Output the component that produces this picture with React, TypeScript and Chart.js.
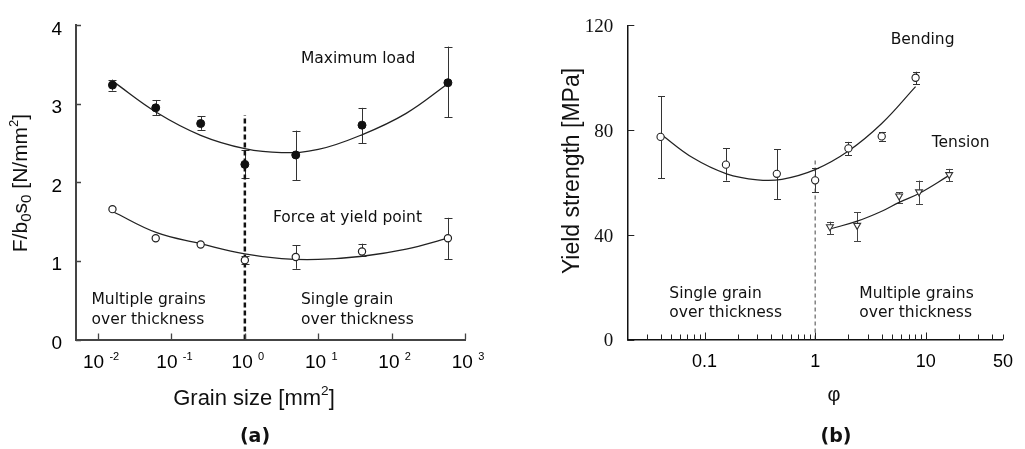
import { useEffect, useRef } from "react";
import { Chart, registerables } from "chart.js";

Chart.register(...registerables);

// ---------------- Panel (a): force per area vs grain size ----------------
const grainTickValues = [0.01, 0.1, 1, 10, 100, 1000];
const grainTickExponents = ["-2", "-1", "0", "1", "2", "3"];
const forceTickValues = [0, 1, 2, 3, 4];

const grainSize = [0.0157, 0.061, 0.25, 1.0, 4.94, 39.5, 585];
const maxLoad = [3.24, 2.95, 2.75, 2.23, 2.35, 2.73, 3.27];
const maxLoadLow = [3.17, 2.86, 2.67, 2.06, 2.03, 2.5, 2.83];
const maxLoadHigh = [3.31, 3.05, 2.84, 2.41, 2.66, 2.95, 3.73];
const yieldForce = [1.66, 1.29, 1.21, 1.01, 1.05, 1.12, 1.29];
const yieldForceLow = [null, null, null, 0.96, 0.9, 1.06, 1.02];
const yieldForceHigh = [null, null, null, 1.06, 1.2, 1.22, 1.55];

const fitGrainSize = [0.0158, 0.063, 0.25, 1, 3.16, 10, 40, 158, 590];
const maxLoadFit = [3.29, 2.89, 2.6, 2.43, 2.38, 2.42, 2.61, 2.88, 3.26];
const yieldForceFit = [1.63, 1.36, 1.22, 1.09, 1.03, 1.02, 1.06, 1.15, 1.29];

const grainBoundaryX = [1, 1];
const grainBoundaryY = [0, 2.86];

// ---------------- Panel (b): yield strength vs phi ----------------
const phiTickValues = [0.1, 1, 10, 50];
const phiTickLabels = ["0.1", "1", "10", "50"];
const phiMajorTicks = [0.1, 1, 10];
const phiMinorTicks = [0.03, 0.04, 0.05, 0.06, 0.07, 0.08, 0.09, 0.2, 0.3, 0.4, 0.5, 0.6, 0.7, 0.8, 0.9, 2, 3, 4, 5, 6, 7, 8, 9, 20, 30, 40, 50];
const strengthTickValues = [0, 40, 80, 120];

const phiBending = [0.04, 0.156, 0.45, 1.0, 2.0, 4.0, 8.1];
const bending = [77.4, 66.8, 63.3, 60.8, 73.0, 77.6, 100.0];
const bendingLow = [61.7, 60.7, 53.7, 56.2, 70.5, 76.0, 97.6];
const bendingHigh = [93.0, 73.0, 72.6, 65.4, 75.5, 79.3, 102.3];

const phiTension = [1.36, 2.4, 5.75, 8.7, 16.3];
const tension = [43.1, 43.6, 54.8, 56.4, 63.0];
const tensionLow = [40.2, 37.5, 52.1, 51.8, 60.4];
const tensionHigh = [45.0, 48.7, 56.2, 60.7, 65.2];

const phiBendingFit = [0.04, 0.079, 0.158, 0.3, 0.5, 1.0, 2.0, 4.0, 8.1];
const bendingFit = [78.5, 69.3, 63.3, 61.0, 61.2, 64.9, 72.0, 82.5, 96.6];
const phiTensionFit = [1.36, 2.4, 4.0, 5.75, 8.7, 16.3];
const tensionFit = [42.2, 45.2, 49.0, 52.4, 55.8, 62.7];

const phiBoundaryX = [1, 1];
const phiBoundaryY = [0, 69.3];

// ---------------- helpers ----------------
const SANS = "'Liberation Sans', Arial, sans-serif";
const WIDE = "'DejaVu Sans', sans-serif";
const SERIF = "'Liberation Serif', 'Times New Roman', serif";

type Seg = { t: string; scale?: number; dy?: number };
type TextItem = {
  segs: Seg[];
  x: number;
  y: number;
  size: number;
  family: string;
  weight?: string;
  align?: "left" | "center";
  rotate?: boolean;
  color?: string;
};

const pts = (xs: number[], ys: number[]) => xs.map((x, i) => ({ x, y: ys[i] }));

function drawText(ctx: CanvasRenderingContext2D, item: TextItem, offsetX: number) {
  const { segs, size, family, weight = "normal", align = "left", rotate = false } = item;
  ctx.save();
  ctx.fillStyle = item.color || "#111";
  ctx.textBaseline = "alphabetic";
  ctx.textAlign = "left";
  const fontFor = (sg: Seg) => `${weight} ${size * (sg.scale || 1)}px ${family}`;
  const widths = segs.map((sg) => {
    ctx.font = fontFor(sg);
    return ctx.measureText(sg.t).width;
  });
  const total = widths.reduce((a, b) => a + b, 0);
  ctx.translate(item.x - offsetX, item.y);
  if (rotate) ctx.rotate(-Math.PI / 2);
  let x = align === "center" ? -total / 2 : 0;
  segs.forEach((sg, i) => {
    ctx.font = fontFor(sg);
    ctx.fillText(sg.t, x, (sg.dy || 0) * size);
    x += widths[i];
  });
  ctx.restore();
}

type Decor = {
  offsetX: number;
  tickColor: string;
  tickWidth: number;
  xMajor: number[];
  xMajorLen: number;
  xMinor: number[];
  xMinorLen: number;
  yTicks: number[];
  yTickLen: number;
  texts: TextItem[];
  xSupLabels?: { values: number[]; exps: string[]; y: number; size: number };
};

function errorBarPlugin(cap: number) {
  return {
    id: "errorBars",
    beforeDatasetsDraw(chart: any) {
      const { ctx } = chart;
      const xs = chart.scales.x;
      const ys = chart.scales.y;
      chart.data.datasets.forEach((ds: any) => {
        if (!ds.errLow) return;
        ctx.save();
        ctx.strokeStyle = ds.errColor || "#333";
        ctx.lineWidth = 1;
        ds.data.forEach((p: any, j: number) => {
          const lo = ds.errLow[j];
          const hi = ds.errHigh[j];
          if (lo == null || hi == null) return;
          const px = Math.round(xs.getPixelForValue(p.x)) + 0.5;
          const y1 = ys.getPixelForValue(lo);
          const y2 = ys.getPixelForValue(hi);
          ctx.beginPath();
          ctx.moveTo(px, y1);
          ctx.lineTo(px, y2);
          ctx.moveTo(px - cap / 2, Math.round(y1) + 0.5);
          ctx.lineTo(px + cap / 2, Math.round(y1) + 0.5);
          ctx.moveTo(px - cap / 2, Math.round(y2) + 0.5);
          ctx.lineTo(px + cap / 2, Math.round(y2) + 0.5);
          ctx.stroke();
        });
        ctx.restore();
      });
    },
  };
}

function decorPlugin(d: Decor) {
  return {
    id: "decor",
    afterDraw(chart: any) {
      const { ctx, chartArea } = chart;
      const xs = chart.scales.x;
      const ys = chart.scales.y;
      ctx.save();
      ctx.strokeStyle = d.tickColor;
      ctx.lineWidth = d.tickWidth;
      ctx.beginPath();
      const bottom = chartArea.bottom;
      const left = chartArea.left;
      const xt = (v: number, len: number) => {
        const px = Math.round(xs.getPixelForValue(v)) + 0.5;
        ctx.moveTo(px, bottom);
        ctx.lineTo(px, bottom - len);
      };
      d.xMajor.forEach((v) => xt(v, d.xMajorLen));
      d.xMinor.forEach((v) => xt(v, d.xMinorLen));
      d.yTicks.forEach((v) => {
        const py = Math.round(ys.getPixelForValue(v)) + 0.5;
        ctx.moveTo(left, py);
        ctx.lineTo(left + d.yTickLen, py);
      });
      ctx.stroke();
      ctx.restore();
      if (d.xSupLabels) {
        const s = d.xSupLabels;
        s.values.forEach((v, i) => {
          drawText(
            ctx,
            {
              segs: [{ t: "10 " }, { t: s.exps[i], scale: 0.58, dy: -0.42 }],
              x: xs.getPixelForValue(v) + d.offsetX + 3,
              y: s.y,
              size: s.size,
              family: SANS,
              align: "center",
              color: "#000",
            },
            d.offsetX
          );
        });
      }
      d.texts.forEach((t) => drawText(ctx, t, d.offsetX));
    },
  };
}

function buildChartA(canvas: HTMLCanvasElement) {
  const decor: Decor = {
    offsetX: 0,
    tickColor: "#444",
    tickWidth: 1.3,
    xMajor: grainTickValues,
    xMajorLen: 6,
    xMinor: [],
    xMinorLen: 0,
    yTicks: forceTickValues,
    yTickLen: 5,
    xSupLabels: { values: grainTickValues, exps: grainTickExponents, y: 368, size: 19 },
    texts: [
      {
        segs: [
          { t: "F/b" },
          { t: "0", scale: 0.72, dy: 0.2 },
          { t: "s" },
          { t: "0", scale: 0.72, dy: 0.2 },
          { t: " [N/mm" },
          { t: "2", scale: 0.62, dy: -0.45 },
          { t: "]" },
        ],
        x: 27,
        y: 183,
        size: 21,
        family: SANS,
        align: "center",
        rotate: true,
      },
      {
        segs: [{ t: "Grain size [mm" }, { t: "2", scale: 0.62, dy: -0.45 }, { t: "]" }],
        x: 254,
        y: 404.5,
        size: 22,
        family: SANS,
        align: "center",
      },
      { segs: [{ t: "(a)" }], x: 255, y: 442, size: 19, family: WIDE, weight: "bold", align: "center" },
      { segs: [{ t: "Maximum load" }], x: 301, y: 62.7, size: 15.5, family: WIDE },
      { segs: [{ t: "Force at yield point" }], x: 273, y: 221.5, size: 15.5, family: WIDE },
      { segs: [{ t: "Multiple grains" }], x: 91.5, y: 304.3, size: 15.5, family: WIDE },
      { segs: [{ t: "over thickness" }], x: 91.5, y: 324, size: 15.5, family: WIDE },
      { segs: [{ t: "Single grain" }], x: 301, y: 304.3, size: 15.5, family: WIDE },
      { segs: [{ t: "over thickness" }], x: 301, y: 324, size: 15.5, family: WIDE },
    ],
  };

  return new Chart(canvas, {
    type: "scatter",
    data: {
      datasets: [
        {
          label: "Maximum load",
          data: pts(grainSize, maxLoad),
          pointStyle: "circle",
          pointRadius: 4,
          backgroundColor: "#111",
          borderColor: "#111",
          borderWidth: 1,
          errLow: maxLoadLow,
          errHigh: maxLoadHigh,
          errColor: "#333",
        } as any,
        {
          label: "Force at yield point",
          data: pts(grainSize, yieldForce),
          pointStyle: "circle",
          pointRadius: 3.6,
          backgroundColor: "#fff",
          borderColor: "#222",
          borderWidth: 1.2,
          errLow: yieldForceLow,
          errHigh: yieldForceHigh,
          errColor: "#333",
        } as any,
        {
          type: "line",
          label: "Maximum load fit",
          data: pts(fitGrainSize, maxLoadFit),
          borderColor: "#222",
          borderWidth: 1.3,
          pointRadius: 0,
          tension: 0.4,
          fill: false,
        } as any,
        {
          type: "line",
          label: "Yield fit",
          data: pts(fitGrainSize, yieldForceFit),
          borderColor: "#222",
          borderWidth: 1.3,
          pointRadius: 0,
          tension: 0.4,
          fill: false,
        } as any,
        {
          type: "line",
          label: "boundary",
          data: pts(grainBoundaryX, grainBoundaryY),
          borderColor: "#111",
          borderWidth: 2.5,
          borderDash: [5, 3],
          pointRadius: 0,
          fill: false,
        } as any,
      ],
    },
    options: {
      animation: false,
      responsive: false,
      devicePixelRatio: 1,
      events: [],
      layout: { padding: { top: 13.5, right: 47, left: 0, bottom: 0 } },
      plugins: { legend: { display: false }, tooltip: { enabled: false }, title: { display: false } },
      scales: {
        x: {
          type: "logarithmic",
          min: 0.005,
          max: 1000,
          grid: { display: false, drawTicks: false },
          border: { display: true, color: "#444", width: 2 },
          ticks: { display: false },
          afterFit: (s: any) => {
            s.height = 109.5;
          },
        },
        y: {
          type: "linear",
          min: 0,
          max: 4,
          grid: { display: false, drawTicks: false },
          border: { display: true, color: "#444", width: 2 },
          ticks: {
            stepSize: 1,
            padding: 14,
            labelOffset: 4,
            color: "#000",
            font: { family: SANS, size: 19 },
          },
          afterFit: (s: any) => {
            s.width = 76;
          },
        },
      },
    } as any,
    plugins: [errorBarPlugin(8), decorPlugin(decor)],
  });
}

function buildChartB(canvas: HTMLCanvasElement) {
  const decor: Decor = {
    offsetX: 512,
    tickColor: "#222",
    tickWidth: 1,
    xMajor: phiMajorTicks,
    xMajorLen: 7,
    xMinor: phiMinorTicks,
    xMinorLen: 5,
    yTicks: strengthTickValues,
    yTickLen: 7,
    texts: [
      {
        segs: [{ t: "Yield strength [MPa]" }],
        x: 579.3,
        y: 171,
        size: 23,
        family: SANS,
        align: "center",
        rotate: true,
      },
      { segs: [{ t: "φ" }], x: 834, y: 401, size: 20, family: SANS, align: "center" },
      { segs: [{ t: "(b)" }], x: 836, y: 442, size: 19, family: WIDE, weight: "bold", align: "center" },
      { segs: [{ t: "Bending" }], x: 890.7, y: 44, size: 15.5, family: WIDE },
      { segs: [{ t: "Tension" }], x: 931.7, y: 146.7, size: 15.5, family: WIDE },
      { segs: [{ t: "Single grain" }], x: 669.3, y: 298.3, size: 15.5, family: WIDE },
      { segs: [{ t: "over thickness" }], x: 669.3, y: 317.3, size: 15.5, family: WIDE },
      { segs: [{ t: "Multiple grains" }], x: 859.3, y: 297.7, size: 15.5, family: WIDE },
      { segs: [{ t: "over thickness" }], x: 859.3, y: 317.3, size: 15.5, family: WIDE },
    ],
  };

  return new Chart(canvas, {
    type: "scatter",
    data: {
      datasets: [
        {
          label: "Bending",
          data: pts(phiBending, bending),
          pointStyle: "circle",
          pointRadius: 3.6,
          backgroundColor: "#fff",
          borderColor: "#222",
          borderWidth: 1.1,
          errLow: bendingLow,
          errHigh: bendingHigh,
          errColor: "#333",
        } as any,
        {
          label: "Tension",
          data: pts(phiTension, tension),
          pointStyle: "triangle",
          rotation: 180,
          pointRadius: 4,
          backgroundColor: "#fff",
          borderColor: "#333",
          borderWidth: 1.1,
          errLow: tensionLow,
          errHigh: tensionHigh,
          errColor: "#444",
        } as any,
        {
          type: "line",
          label: "Bending fit",
          data: pts(phiBendingFit, bendingFit),
          borderColor: "#222",
          borderWidth: 1.2,
          pointRadius: 0,
          tension: 0.4,
          fill: false,
        } as any,
        {
          type: "line",
          label: "Tension fit",
          data: pts(phiTensionFit, tensionFit),
          borderColor: "#222",
          borderWidth: 1.2,
          pointRadius: 0,
          tension: 0.4,
          fill: false,
        } as any,
        {
          type: "line",
          label: "boundary",
          data: pts(phiBoundaryX, phiBoundaryY),
          borderColor: "#444",
          borderWidth: 1,
          borderDash: [4, 3],
          pointRadius: 0,
          fill: false,
        } as any,
      ],
    },
    options: {
      animation: false,
      responsive: false,
      devicePixelRatio: 1,
      events: [],
      layout: { padding: { top: 18.3, right: 15, left: 0, bottom: 0 } },
      plugins: { legend: { display: false }, tooltip: { enabled: false }, title: { display: false } },
      scales: {
        x: {
          type: "logarithmic",
          min: 0.02,
          max: 50,
          grid: { display: false, drawTicks: false },
          border: { display: true, color: "#111", width: 1.5 },
          afterBuildTicks: (s: any) => {
            s.ticks = phiTickValues.map((v) => ({ value: v }));
          },
          ticks: {
            autoSkip: false,
            maxRotation: 0,
            minRotation: 0,
            padding: 12,
            color: "#000",
            font: { family: SANS, size: 18 },
            callback: (value: any) => {
              const i = phiTickValues.indexOf(Number(value));
              return i >= 0 ? phiTickLabels[i] : "";
            },
          },
          afterFit: (s: any) => {
            s.height = 109.5;
          },
        },
        y: {
          type: "linear",
          min: 0,
          max: 120,
          grid: { display: false, drawTicks: false },
          border: { display: true, color: "#111", width: 1.5 },
          ticks: {
            stepSize: 40,
            padding: 14,
            labelOffset: 2,
            color: "#111",
            font: { family: SERIF, size: 19 },
          },
          afterFit: (s: any) => {
            s.width = 115.3;
          },
        },
      },
    } as any,
    plugins: [errorBarPlugin(7), decorPlugin(decor)],
  });
}

export default function App() {
  const refA = useRef<HTMLCanvasElement>(null);
  const refB = useRef<HTMLCanvasElement>(null);

  useEffect(() => {
    document.body.style.margin = "0";
    const a = buildChartA(refA.current!);
    const b = buildChartB(refB.current!);
    return () => {
      a.destroy();
      b.destroy();
    };
  }, []);

  return (
    <div style={{ position: "relative", width: 1025, height: 449, background: "#fff" }}>
      <canvas
        ref={refA}
        width={512}
        height={449}
        style={{ position: "absolute", left: 0, top: 0, width: 512, height: 449 }}
      />
      <canvas
        ref={refB}
        width={513}
        height={449}
        style={{ position: "absolute", left: 512, top: 0, width: 513, height: 449 }}
      />
    </div>
  );
}
